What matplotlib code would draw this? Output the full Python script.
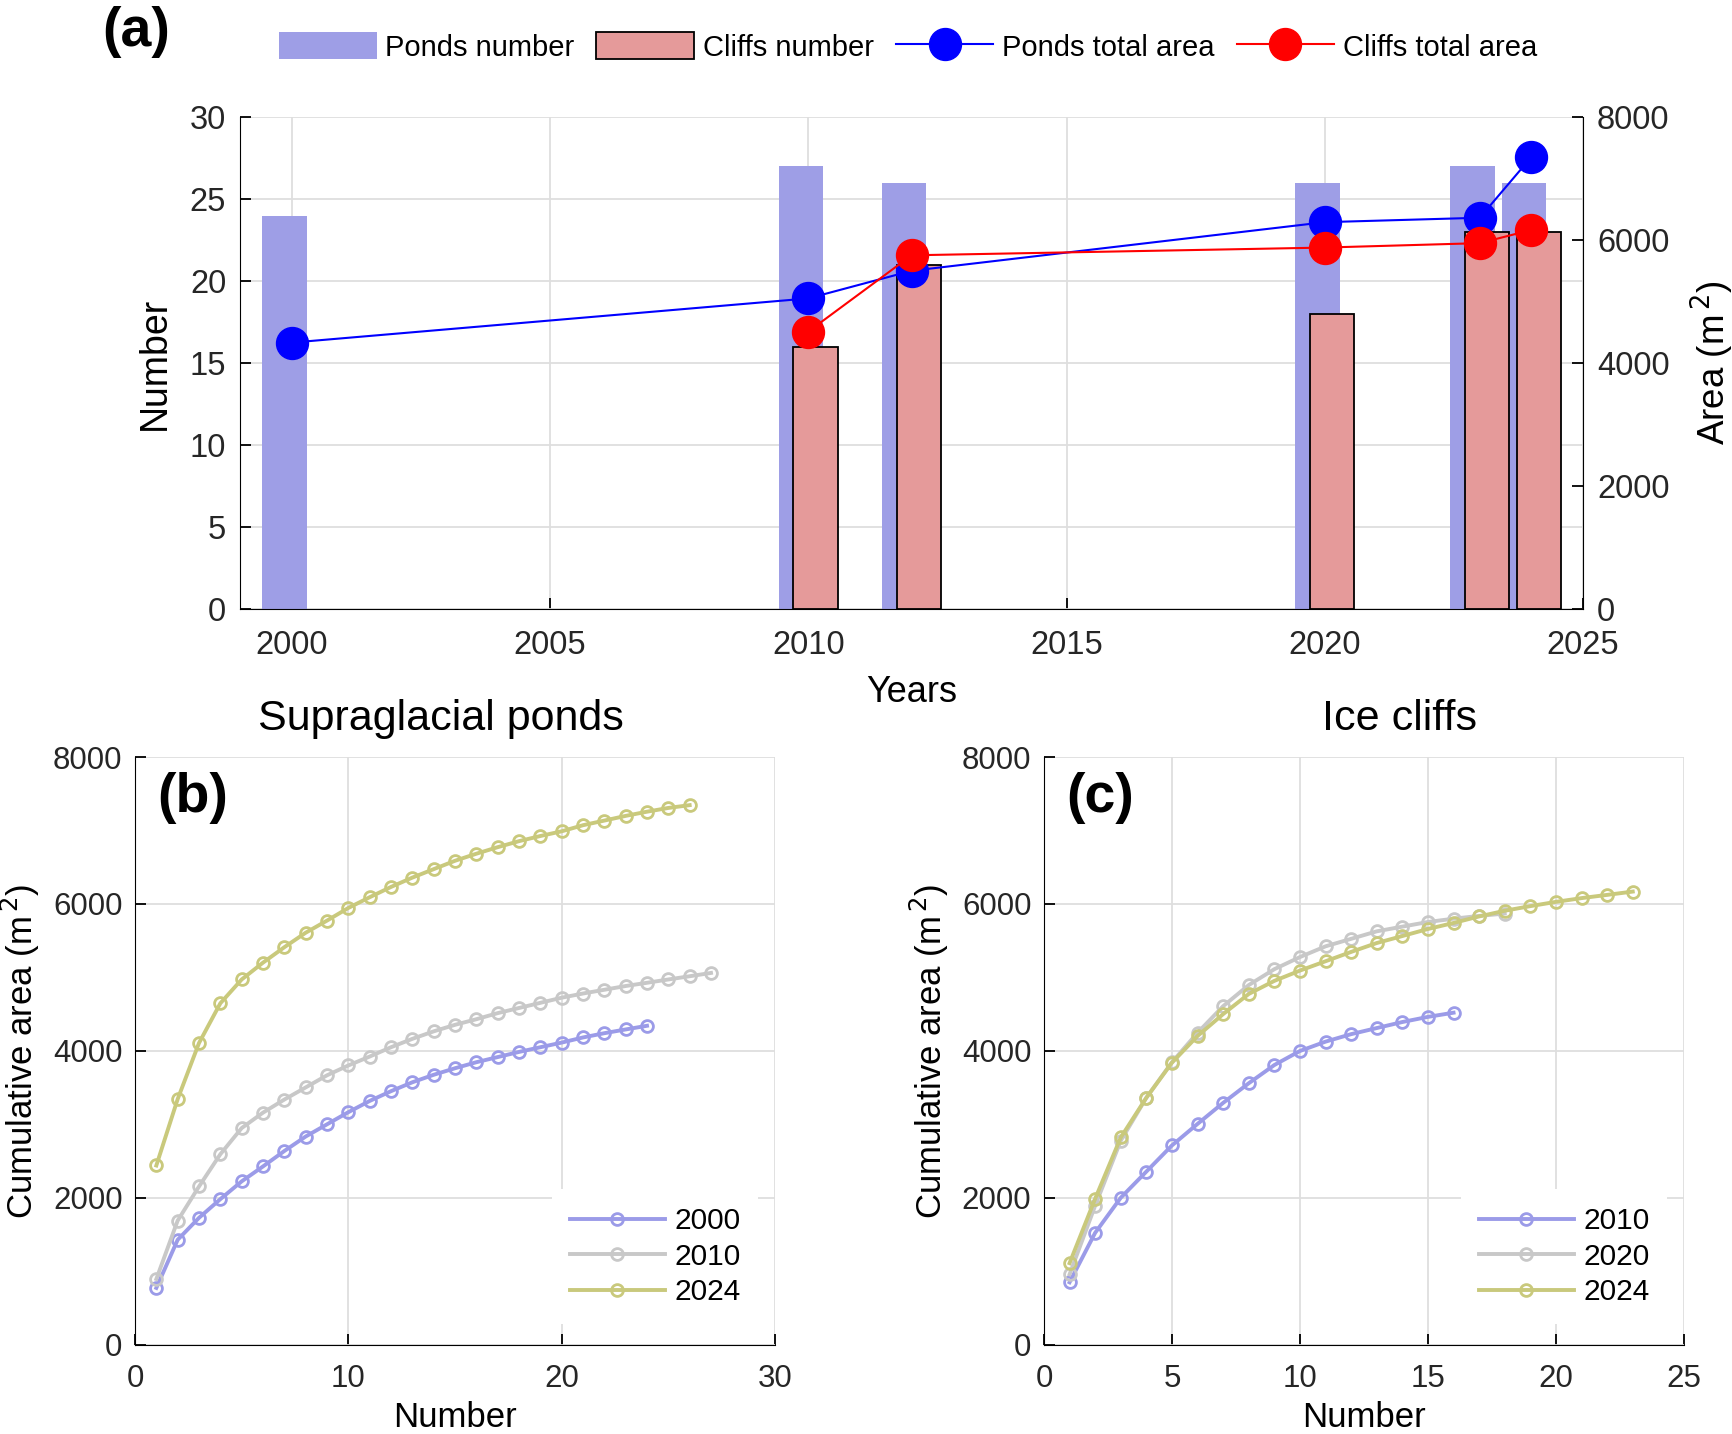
import matplotlib
matplotlib.use("Agg")
import matplotlib.pyplot as plt
import numpy as np
from matplotlib.lines import Line2D
from matplotlib.patches import Patch

plt.rcParams['font.family'] = ['Liberation Sans', 'DejaVu Sans']

# ---------------- data ----------------
years = [2000, 2010, 2012, 2020, 2023, 2024]
ponds_number = [24, 27, 26, 26, 27, 26]
cliff_years = [2010, 2012, 2020, 2023, 2024]
cliffs_number = [16, 21, 18, 23, 23]
ponds_area = [4333, 5052, 5501, 6292, 6364, 7353]
cliffs_area = [4512, 5753, 5879, 5951, 6166]

ponds_2000 = [776, 1431, 1730, 1984, 2226, 2429, 2639, 2836, 3002, 3167, 3320, 3453,
              3574, 3676, 3765, 3847, 3917, 3987, 4051, 4114, 4184, 4242, 4293, 4343]
ponds_2010 = [897, 1692, 2156, 2595, 2951, 3161, 3339, 3504, 3669, 3803, 3924, 4051,
              4165, 4267, 4356, 4432, 4515, 4585, 4655, 4725, 4782, 4833, 4884, 4928,
              4973, 5017, 5062]
ponds_2024 = [2442, 3345, 4108, 4649, 4973, 5202, 5412, 5609, 5774, 5946, 6092, 6232,
              6359, 6474, 6588, 6684, 6773, 6855, 6925, 6989, 7072, 7135, 7199, 7256,
              7307, 7345]

cliffs_2010 = [852, 1526, 2003, 2359, 2715, 3008, 3294, 3561, 3809, 4000, 4127, 4229,
               4312, 4394, 4464, 4521]
cliffs_2020 = [960, 1895, 2779, 3364, 3847, 4248, 4610, 4897, 5113, 5278, 5424, 5526,
               5628, 5692, 5755, 5800, 5838, 5870]
cliffs_2024 = [1113, 1990, 2823, 3364, 3841, 4204, 4502, 4776, 4954, 5094, 5221, 5348,
               5469, 5564, 5660, 5742, 5831, 5908, 5971, 6029, 6080, 6124, 6169]

# ---------------- style ----------------
C_PBAR = '#9e9ee6'
C_CBAR = '#e59a9a'
C_L1 = '#9b9be8'
C_L2 = '#c8c8c8'
C_L3 = '#c9c97c'
TXT = '#262626'
GRID = '#dedede'

fig = plt.figure(figsize=(17.33, 14.34), dpi=100)

def style_axis(ax, fs, xpad, ypad):
    ax.tick_params(direction='in', labelsize=fs, length=8, width=1.3,
                   colors='black', labelcolor=TXT)
    ax.tick_params(axis='x', pad=xpad)
    ax.tick_params(axis='y', pad=ypad)
    ax.grid(True, color=GRID, linewidth=1.3)
    ax.set_axisbelow(True)

# ---------------- panel (a) ----------------
axa = fig.add_axes([0.1385, 0.5753, 0.775, 0.343])
axb2 = axa.twinx()
style_axis(axa, 23.5, 15, 10)
w = 0.855
off = 0.14
axa.bar(np.array(years) - off, ponds_number, width=w, color=C_PBAR,
        edgecolor='none', zorder=2)
axa.bar(np.array(cliff_years) + off, cliffs_number, width=w, color=C_CBAR,
        edgecolor='black', linewidth=1.3, zorder=3)
axa.set_xlim(1999, 2025)
axa.set_ylim(0, 30)
axa.set_xticks([2000, 2005, 2010, 2015, 2020, 2025])
axa.set_yticks([0, 5, 10, 15, 20, 25, 30])
axa.set_xlabel('Years', fontsize=26, labelpad=10)
axa.set_ylabel('Number', fontsize=27, labelpad=12)
axa.spines['top'].set_visible(False)
axa.spines['right'].set_visible(False)

axb2.plot(years, ponds_area, '-o', color='#0000ff', lw=1.5, ms=23, zorder=5)
axb2.plot(cliff_years, cliffs_area, '-o', color='#ff0000', lw=1.5, ms=23, zorder=6)
axb2.set_ylim(0, 8000)
axb2.set_yticks([0, 2000, 4000, 6000, 8000])
axb2.tick_params(direction='in', labelsize=23.5, length=8, width=1.3,
                 colors='black', labelcolor=TXT, pad=10)
axb2.set_ylabel('Area (m$^{\\,2}$)', fontsize=26.5, labelpad=14)
axb2.spines['top'].set_visible(False)
axb2.spines['left'].set_visible(False)
axb2.spines['bottom'].set_visible(False)

handles = [Patch(facecolor=C_PBAR, edgecolor='none'),
           Patch(facecolor=C_CBAR, edgecolor='black', linewidth=1.3),
           Line2D([], [], color='#0000ff', lw=1.5, marker='o', ms=23),
           Line2D([], [], color='#ff0000', lw=1.5, marker='o', ms=23)]
labels = ['Ponds number', 'Cliffs number', 'Ponds total area', 'Cliffs total area']
fig.legend(handles, labels, loc='center', bbox_to_anchor=(0.524, 1 - 47 / 1434),
           ncol=4, frameon=False, fontsize=21, handlelength=3.35,
           handleheight=1.0, handletextpad=0.3, columnspacing=0.75)
fig.text(0.059, 1 - 32 / 1434, '(a)', fontsize=40, fontweight='bold',
         ha='left', va='center')

# ---------------- panels (b), (c) ----------------
def cum_panel(rect, series, names, xlim, xticks, title, title_x, letter):
    ax = fig.add_axes(rect)
    style_axis(ax, 22.5, 14, 9)
    cols = [C_L1, C_L2, C_L3]
    for vals, name, c in zip(series, names, cols):
        x = np.arange(1, len(vals) + 1)
        ax.plot(x, vals, '-o', color=c, lw=2.8, ms=8.5, mfc='none', mew=2.0,
                label=name)
    ax.set_xlim(*xlim)
    ax.set_ylim(0, 8000)
    ax.set_xticks(xticks)
    ax.set_yticks([0, 2000, 4000, 6000, 8000])
    ax.spines['top'].set_visible(False)
    ax.spines['right'].set_visible(False)
    ax.set_xlabel('Number', fontsize=25, labelpad=5)
    ax.set_ylabel('Cumulative area (m$^{\\,2}$)', fontsize=25, labelpad=8)
    ax.text(title_x, 1 + (757 - 719) / 588, title, transform=ax.transAxes,
            fontsize=31, ha='center', va='center')
    ax.text(0.035, 0.93, letter, transform=ax.transAxes, fontsize=40,
            fontweight='bold', ha='left', va='center')
    ax.legend(loc='center', bbox_to_anchor=(0.8125, 0.15), fontsize=21.5,
              frameon=True, framealpha=1, edgecolor='none', fancybox=False,
              handlelength=3.2, handletextpad=0.3, labelspacing=0.25,
              borderpad=0.6)
    return ax

cum_panel([0.0779, 0.0621, 0.3693, 0.41], [ponds_2000, ponds_2010, ponds_2024],
          ['2000', '2010', '2024'], (0, 30), [0, 10, 20, 30],
          'Supraglacial ponds', 0.478, '(b)')
cum_panel([0.6024, 0.0621, 0.3693, 0.41], [cliffs_2010, cliffs_2020, cliffs_2024],
          ['2010', '2020', '2024'], (0, 25), [0, 5, 10, 15, 20, 25],
          'Ice cliffs', 0.555, '(c)')

fig.savefig('out.png', dpi=100)
